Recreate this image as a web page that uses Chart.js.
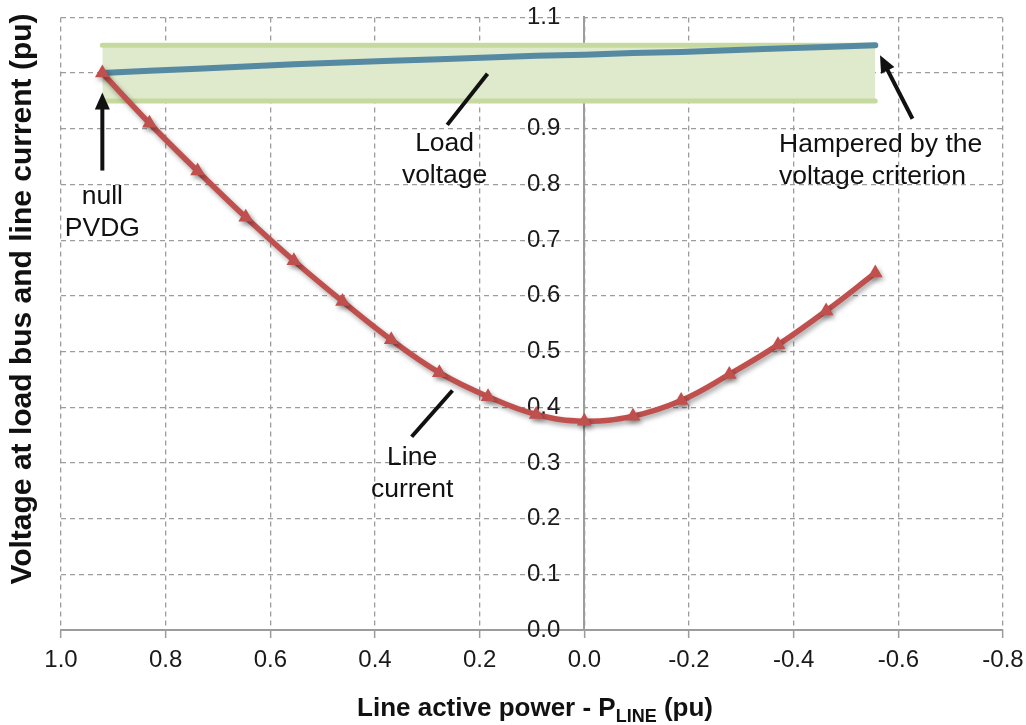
<!DOCTYPE html>
<html>
<head>
<meta charset="utf-8">
<title>Line current and load voltage</title>
<script src="https://cdn.jsdelivr.net/npm/chart.js@4.4.1/dist/chart.umd.min.js"></script>
<style>
	html, body { margin: 0; padding: 0; background: #fff; }
	canvas { display: block; }
</style>
</head>
<body>
<canvas id="chart" width="1026" height="725"></canvas>
<script>
// line active power P_LINE (pu), one entry per operating point
const linePower = [0.921, 0.831, 0.739, 0.647, 0.555, 0.462, 0.369, 0.277, 0.184, 0.092, 0.0, -0.093, -0.185, -0.277, -0.370, -0.462, -0.556];
const lineCurrent = [1.0, 0.910, 0.824, 0.741, 0.663, 0.590, 0.521, 0.462, 0.419, 0.387, 0.375, 0.384, 0.412, 0.459, 0.512, 0.573, 0.641];
const loadVoltage = [1.0, 1.004, 1.008, 1.012, 1.016, 1.019, 1.022, 1.025, 1.028, 1.031, 1.033, 1.036, 1.038, 1.041, 1.044, 1.047, 1.05];

// admissible voltage band
const bandPower = [0.921, -0.556];
const bandLow = [0.95, 0.95];
const bandHigh = [1.05, 1.05];

const powerRange = [-0.8, 1.0];
const puRange = [0, 1.1];

const FONT = "'Liberation Sans', Arial, sans-serif";
const GRID = '#9c9c9c';

// callouts, anchored in data units
const notes = [
	{ text: ['null', 'PVDG'], x: 0.921, y: 0.765, align: 'center' },
	{ text: ['Load', 'voltage'], x: 0.267, y: 0.861, align: 'center' },
	{ text: ['Hampered by the', 'voltage criterion'], x: -0.372, y: 0.859, align: 'left' },
	{ text: ['Line', 'current'], x: 0.329, y: 0.297, align: 'center' },
];
const pointers = [
	{ from: [0.921, 0.825], to: [0.921, 0.965], head: true },
	{ from: [0.262, 0.907], to: [0.185, 0.999], head: false },
	{ from: [-0.627, 0.918], to: [-0.565, 1.032], head: true },
	{ from: [0.330, 0.347], to: [0.252, 0.430], head: false },
];

const toPoints = (xs, ys) => xs.map((x, i) => ({ x: x, y: ys[i] }));
const oneDecimal = v => (Math.abs(v) < 1e-9 ? 0 : v).toFixed(1);

function drawArrow(ctx, x1, y1, x2, y2, head) {
	const a = Math.atan2(y2 - y1, x2 - x1);
	const len = 17, half = 7.5;
	const sx = head ? x2 - (len - 4) * Math.cos(a) : x2;
	const sy = head ? y2 - (len - 4) * Math.sin(a) : y2;
	ctx.beginPath();
	ctx.moveTo(x1, y1);
	ctx.lineTo(sx, sy);
	ctx.stroke();
	if (!head) return;
	ctx.beginPath();
	ctx.moveTo(x2, y2);
	ctx.lineTo(x2 - len * Math.cos(a) + half * Math.sin(a), y2 - len * Math.sin(a) - half * Math.cos(a));
	ctx.lineTo(x2 - len * Math.cos(a) - half * Math.sin(a), y2 - len * Math.sin(a) + half * Math.cos(a));
	ctx.closePath();
	ctx.fill();
}

const decorations = {
	id: 'decorations',
	beforeDatasetDraw(chart, args) {
		if (args.index !== 0) return;
		const ctx = chart.ctx;
		ctx.save();
		ctx.shadowColor = 'rgba(0, 0, 0, 0.35)';
		ctx.shadowBlur = 5;
		ctx.shadowOffsetX = 2;
		ctx.shadowOffsetY = 3;
	},
	afterDatasetDraw(chart, args) {
		if (args.index === 0) chart.ctx.restore();
	},
	afterDraw(chart) {
		const { ctx, chartArea, scales: { x, y } } = chart;
		ctx.save();
		ctx.fillStyle = '#111';
		ctx.strokeStyle = '#111';

		// callout text
		ctx.font = '26.5px ' + FONT;
		ctx.textBaseline = 'alphabetic';
		notes.forEach(n => {
			ctx.textAlign = n.align;
			n.text.forEach((t, i) => {
				ctx.fillText(t, x.getPixelForValue(n.x), y.getPixelForValue(n.y) + i * 32);
			});
		});

		// arrows and leader lines
		ctx.lineWidth = 4;
		ctx.lineCap = 'butt';
		pointers.forEach(p => {
			drawArrow(ctx,
				x.getPixelForValue(p.from[0]), y.getPixelForValue(p.from[1]),
				x.getPixelForValue(p.to[0]), y.getPixelForValue(p.to[1]), p.head);
		});

		// x axis title with subscript
		const main = 'Line active power - P';
		const sub = 'LINE';
		const tail = ' (pu)';
		const big = 'bold 26px ' + FONT;
		const small = 'bold 18px ' + FONT;
		ctx.font = big;
		const w1 = ctx.measureText(main).width;
		const w3 = ctx.measureText(tail).width;
		ctx.font = small;
		const w2 = ctx.measureText(sub).width;
		let tx = (chartArea.left + chartArea.right) / 2 + 3 - (w1 + w2 + w3) / 2;
		const ty = chart.height - 9;
		ctx.textAlign = 'left';
		ctx.font = big;
		ctx.fillText(main, tx, ty);
		tx += w1;
		ctx.font = small;
		ctx.fillText(sub, tx, ty + 6);
		tx += w2;
		ctx.font = big;
		ctx.fillText(tail, tx, ty);

		// y axis title
		ctx.translate(23, 299);
		ctx.rotate(-Math.PI / 2);
		ctx.textAlign = 'center';
		ctx.textBaseline = 'middle';
		ctx.font = 'bold 30px ' + FONT;
		ctx.fillText('Voltage at load bus and line current (pu)', 0, 0);
		ctx.restore();
	},
};

Chart.defaults.font.family = FONT;

new Chart(document.getElementById('chart'), {
	type: 'line',
	data: {
		datasets: [
			{
				label: 'Line current',
				data: toPoints(linePower, lineCurrent),
				borderColor: '#c0504d',
				backgroundColor: '#c0504d',
				borderWidth: 5.5,
				pointStyle: 'triangle',
				pointRadius: 8.5,
				pointBorderWidth: 0,
				tension: 0.4,
				order: 0,
			},
			{
				label: 'Load voltage',
				data: toPoints(linePower, loadVoltage),
				borderColor: '#5689a2',
				borderWidth: 6,
				borderCapStyle: 'round',
				pointRadius: 0,
				order: 1,
			},
			{
				label: 'Upper limit',
				data: toPoints(bandPower, bandHigh),
				borderColor: '#c6da9f',
				borderWidth: 5,
				borderCapStyle: 'round',
				pointRadius: 0,
				fill: false,
				order: 3,
			},
			{
				label: 'Lower limit',
				data: toPoints(bandPower, bandLow),
				borderColor: '#c6da9f',
				backgroundColor: '#dfe9cc',
				borderWidth: 5,
				borderCapStyle: 'round',
				pointRadius: 0,
				fill: '-1',
				order: 2,
			},
		],
	},
	options: {
		responsive: false,
		animation: false,
		events: [],
		layout: {
			padding: { left: 61, right: 23, top: 0, bottom: 0 },
		},
		plugins: {
			legend: { display: false },
			tooltip: { enabled: false },
			filler: { drawTime: 'beforeDatasetsDraw' },
		},
		scales: {
			x: {
				type: 'linear',
				reverse: true,
				min: powerRange[0],
				max: powerRange[1],
				afterFit: scale => {
					scale.height = 95;
					scale.paddingLeft = 0;
					scale.paddingRight = 0;
				},
				ticks: {
					stepSize: 0.2,
					padding: 8,
					color: '#1a1a1a',
					font: { size: 24 },
					maxRotation: 0,
					autoSkip: false,
					callback: oneDecimal,
				},
				grid: {
					color: GRID,
					lineWidth: 1.3,
					tickLength: 8,
					tickColor: GRID,
					tickWidth: 1.5,
				},
				border: { color: GRID, width: 2, dash: [5, 4] },
			},
			y: {
				type: 'linear',
				position: { x: 0 },
				min: puRange[0],
				max: puRange[1],
				ticks: {
					stepSize: 0.1,
					color: '#1a1a1a',
					font: { size: 24 },
					// em space keeps the labels clear of the axis line
					callback: v => oneDecimal(v) + '\u2003',
				},
				grid: {
					color: GRID,
					lineWidth: 1.3,
					drawTicks: false,
				},
				border: { color: GRID, width: 2, dash: [5, 4] },
			},
		},
	},
	plugins: [decorations],
});
</script>
</body>
</html>
